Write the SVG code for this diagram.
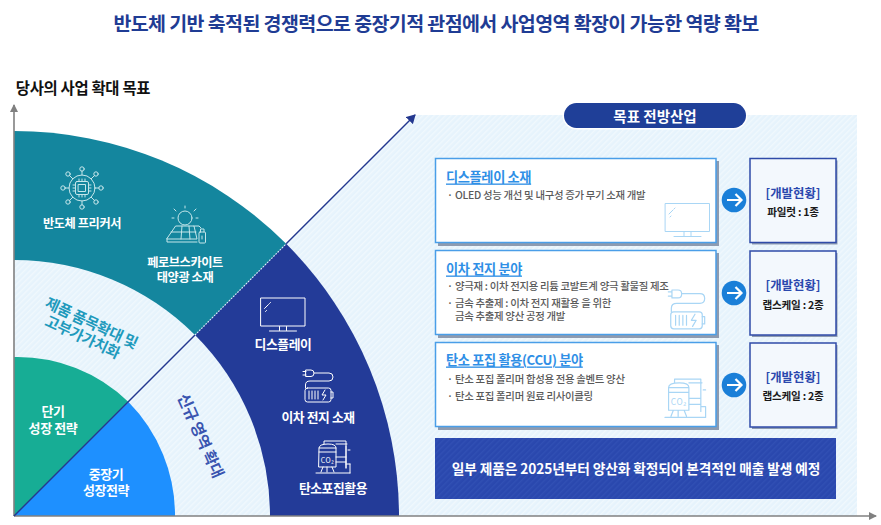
<svg xmlns="http://www.w3.org/2000/svg" width="881" height="525" viewBox="0 0 881 525">
<style>
text{font-family:"Noto Sans CJK KR","Noto Sans",sans-serif;font-weight:700;text-anchor:middle;dominant-baseline:central}
.w{fill:#fff;font-size:12.2px;letter-spacing:-.4px}
.ct{fill:#2f8fe6;font-size:13.2px;text-anchor:start;text-decoration:underline;letter-spacing:-.35px}
.b{fill:#5a5a5a;font-size:10.4px;font-weight:500;text-anchor:start;letter-spacing:-.3px}
.s1{fill:#2a48ae;font-size:12.4px}
.s2{fill:#1a1a1a;font-size:10.6px;letter-spacing:-.25px}
.card{fill:#fff;stroke:#4a9ee8;stroke-width:1.5}
.shadow{fill:#8e9bb0}
.stat{fill:#f3f8fd;stroke:#2f4ba8;stroke-width:1.5}
.ic{fill:none;stroke:#fff;stroke-width:1;stroke-linecap:round;stroke-linejoin:round}
.icl{fill:none;stroke:#a9d6f5;stroke-width:1;stroke-linecap:round;stroke-linejoin:round}
.ict{fill:none;stroke:#c5e6ea;stroke-width:1;stroke-linecap:round;stroke-linejoin:round}
</style>
<defs>
<pattern id="h" width="4" height="4" patternUnits="userSpaceOnUse" patternTransform="rotate(-45)">
<rect width="4" height="4" fill="#e6f3fc"/><rect width="4" height="1.4" fill="#f0f8fd"/>
</pattern>
<pattern id="h2" width="4" height="4" patternUnits="userSpaceOnUse" patternTransform="rotate(-45)">
<rect width="4" height="4" fill="#2a48ae"/><rect width="4" height="1.4" fill="#3150b4"/>
</pattern>
<marker id="ag" markerWidth="9" markerHeight="8" refX="7" refY="4" orient="auto" markerUnits="userSpaceOnUse"><path d="M0 0L8 4L0 8Z" fill="#808080"/></marker>
<marker id="an" markerWidth="10" markerHeight="10" refX="8" refY="5" orient="auto" markerUnits="userSpaceOnUse"><path d="M0 0L9 5L0 10Z" fill="#24388f"/></marker>
<symbol id="mon" viewBox="0 0 46 36" overflow="visible">
<rect x=".5" y=".5" width="44" height="28"/><path d="M19 29V33M26 29V33M9 33.5H36M4 11L8 7M9 6L10 5M6 13L5 14"/>
</symbol>
<symbol id="bat" viewBox="0 0 32 33" overflow="visible">
<path d="M1 1.5H4M1 5H4M4 0H9Q12 0 12 3.2Q12 6.5 9 6.5H4ZM12 3H27Q31 3 31 7Q31 11 27 11H8Q3.5 11 3.5 15V18"/>
<rect x="3" y="18" width="26" height="14" rx="2.5"/><path d="M29 22H31V28H29M7 21V29M10 21V29M13 21V29M16 21V29M23 20L20 25H24L21 30"/>
</symbol>
<symbol id="tank" viewBox="0 0 36 36" overflow="visible">
<path d="M3 8Q3 4 12 4Q20 4 20 8V27H3ZM3 12H20M3 8H20M8 4V1H30V28M20 4H31M30 6V28M20 17H30M20 22H30M32 10H34M7 27L5 32M16 27L18 32M0 33H34M11 27V32M34 24V33M30 24H34"/>
<text x="11.5" y="19.5" style="font-size:7px;font-weight:400;fill:currentColor;stroke:none;letter-spacing:.5px">CO₂</text>
</symbol>
</defs>

<rect width="881" height="525" fill="#fff"/>
<text x="436" y="22" style="fill:#1f3c94;font-size:19.5px;letter-spacing:-.6px">반도체 기반 축적된 경쟁력으로 중장기적 관점에서 사업영역 확장이 가능한 역량 확보</text>
<text x="83" y="87" style="fill:#111;font-size:15.4px;letter-spacing:-.3px">당사의 사업 확대 목표</text>

<path id="bg" d="M14 516L415 115H857V516Z" fill="url(#h)"/>

<g id="sector-left-outer"><path d="M14 516V131A385 385 0 0 1 286.2 243.8Z" fill="#14869e"/></g>
<g id="sector-left-mid"><path d="M14 516V260A256 256 0 0 1 195 335Z" fill="url(#h)"/></g>
<g id="sector-left-inner"><path d="M14 516V357A159 159 0 0 1 128.5 402Z" fill="#17ad95"/></g>
<g id="sector-right-outer"><path d="M14 516L286.2 243.8A385 385 0 0 1 399 516Z" fill="#233b98"/></g>
<g id="sector-right-mid"><path d="M14 516L195 335A256 256 0 0 1 270 516Z" fill="url(#h)"/></g>
<g id="sector-right-inner"><path d="M14 516L128.5 402A161 161 0 0 1 175 516Z" fill="#1e90ff"/></g>

<g id="connectors">
<path d="M14 516V105" stroke="#808080" stroke-width="1.6" fill="none" marker-end="url(#ag)"/>
<path d="M14 516H876" stroke="#808080" stroke-width="1.6" fill="none" marker-end="url(#ag)"/>
<path d="M14 516L195 335" stroke="#24388f" stroke-width="1.4" fill="none"/>
<path d="M195 335L286.2 243.8" stroke="#d8eef8" stroke-width="1.2" stroke-dasharray="1.5 1.5" fill="none"/>
<path d="M286.2 243.8L415 115" stroke="#24388f" stroke-width="1.4" fill="none" marker-end="url(#an)"/>
</g>

<g id="node-semiconductor">
<g class="ict" transform="translate(82 188)">
<circle r="13"/><rect x="-6.5" y="-6.5" width="13" height="13" rx="1.5"/><rect x="-3.5" y="-3.5" width="7" height="7"/>
<path d="M-3 -9V-6.5M0 -9V-6.5M3 -9V-6.5M-3 6.5V9M0 6.5V9M3 6.5V9M-9 -3H-6.5M-9 0H-6.5M-9 3H-6.5M6.5 -3H9M6.5 0H9M6.5 3H9"/>
<path d="M0 -13V-17M0 13V17M-13 0H-17M13 0H17M-9.2 -9.2L-12.5 -12.5M9.2 -9.2L12.5 -12.5M-9.2 9.2L-12.5 12.5M9.2 9.2L12.5 12.5"/>
<circle cy="-19" r="2.2"/><circle cy="19" r="2.2"/><circle cx="-19" r="2.2"/><circle cx="19" r="2.2"/>
<circle cx="-14" cy="-14" r="2.2"/><circle cx="14" cy="-14" r="2.2"/><circle cx="-14" cy="14" r="2.2"/><circle cx="14" cy="14" r="2.2"/>
</g>
<text class="w" x="82" y="223">반도체 프리커서</text>
</g>
<g id="node-perovskite">
<g class="ict" transform="translate(185 225)">
<circle cy="-7" r="7"/><path d="M0 -19V-17M-11 -16L-9 -14M11 -16L9 -14M-13 -7H-11M11 -7H13"/>
<path d="M-9 1H9L12 14H-18ZM-3 1L-4 14M4 1L5 14M-14 7H11M-18 14V17H12M9 1H14L16 3"/>
<rect x="14" y="7" width="6.5" height="11" rx="1"/><path d="M15.5 7V4H19V7M17 11V14"/>
</g>
<text class="w" x="185" y="262">페로브스카이트</text>
<text class="w" x="185" y="277">태양광 소재</text>
</g>
<g id="node-band-left">
<text transform="translate(92 322) rotate(25)" style="fill:#1f9abc;font-size:15px;letter-spacing:-.4px">제품 품목확대 및</text>
<text transform="translate(83 336) rotate(25)" style="fill:#1f9abc;font-size:15px;letter-spacing:-.4px">고부가가치화</text>
</g>
<g id="node-short">
<text class="w" x="53" y="410" style="font-size:13px">단기</text>
<text class="w" x="53" y="427" style="font-size:13px">성장 전략</text>
</g>
<g id="node-mid">
<text class="w" x="106" y="473" style="font-size:13px">중장기</text>
<text class="w" x="106" y="489" style="font-size:13px">성장전략</text>
</g>
<g id="node-band-right">
<text transform="translate(202 435) rotate(66)" style="fill:#3a55b0;font-size:15.5px;letter-spacing:-.3px">신규 영역 확대</text>
</g>
<g id="node-display">
<use href="#mon" class="ic" x="260.5" y="297.5" width="46" height="36"/>
<text class="w" x="283" y="343" style="font-size:12.8px">디스플레이</text>
</g>
<g id="node-battery">
<use href="#bat" class="ic" x="302" y="370" width="32" height="33"/>
<text class="w" x="318" y="416" style="font-size:12.8px">이차 전지  소재</text>
</g>
<g id="node-ccu">
<use href="#tank" class="ic" x="316" y="440" width="36" height="36" style="color:#fff"/>
<text class="w" x="333" y="487" style="font-size:12.8px">탄소포집활용</text>
</g>

<g id="node-pill">
<rect x="562.5" y="101.5" width="185" height="28" rx="14" fill="#fff"/>
<rect x="564" y="103" width="182" height="25" rx="12.5" fill="#1f3f98"/>
<text x="655" y="115" style="fill:#fff;font-size:14.5px">목표 전방산업</text>
</g>

<g id="node-card1">
<rect class="shadow" x="438" y="161" width="281" height="85"/>
<rect class="card" x="435.5" y="158.5" width="280.5" height="84"/>
<text class="ct" x="446" y="176">디스플레이 소재</text>
<text class="b" x="447" y="194">·</text>
<text class="b" x="455" y="194">OLED 성능 개선 및 내구성 증가 무기 소재 개발</text>
<use href="#mon" class="icl" x="665" y="203" width="46" height="36"/>
</g>
<g id="node-card2">
<rect class="shadow" x="438" y="253" width="281" height="85"/>
<rect class="card" x="435.5" y="250.5" width="280.5" height="84"/>
<text class="ct" x="446" y="268">이차 전지 분야</text>
<text class="b" x="447" y="285">·</text>
<text class="b" x="455" y="285">양극재 : 이차 전지용 리튬 코발트계 양극 활물질 제조</text>
<text class="b" x="447" y="302">·</text>
<text class="b" x="455" y="302">금속 추출제 : 이차 전지 재활용 을 위한</text>
<text class="b" x="455" y="315">금속 추출제 양산 공정 개발</text>
<use href="#bat" class="icl" x="667" y="290" width="39" height="40"/>
</g>
<g id="node-card3">
<rect class="shadow" x="438" y="345" width="281" height="85"/>
<rect class="card" x="435.5" y="342.5" width="280.5" height="84"/>
<text class="ct" x="446" y="359">탄소 포집 활용(CCU) 분야</text>
<text class="b" x="447" y="378">·</text>
<text class="b" x="455" y="378">탄소 포집 폴리머 합성용 전용 솔벤트 양산</text>
<text class="b" x="447" y="395">·</text>
<text class="b" x="455" y="395">탄소 포집 폴리머 원료 리사이클링</text>
<use href="#tank" class="icl" x="665" y="377" width="43" height="45" style="color:#a9d6f5"/>
</g>

<g id="node-arrow1"><circle cx="734" cy="200" r="12.3" fill="#1a7fd8"/><path d="M727 200H741M735.5 194L741.5 200L735.5 206" fill="none" stroke="#fff" stroke-width="2.2"/></g>
<g id="node-arrow2"><circle cx="734" cy="293" r="12.3" fill="#1a7fd8"/><path d="M727 293H741M735.5 287L741.5 293L735.5 299" fill="none" stroke="#fff" stroke-width="2.2"/></g>
<g id="node-arrow3"><circle cx="734" cy="385" r="12.3" fill="#1a7fd8"/><path d="M727 385H741M735.5 379L741.5 385L735.5 391" fill="none" stroke="#fff" stroke-width="2.2"/></g>

<g id="node-status1">
<rect class="shadow" x="752" y="160.5" width="85.5" height="84"/>
<rect class="stat" x="750" y="158.5" width="86" height="84"/>
<text class="s1" x="793" y="193">[개발현황]</text>
<text class="s2" x="793" y="211">파일럿 : 1종</text>
</g>
<g id="node-status2">
<rect class="shadow" x="752" y="253" width="85.5" height="84"/>
<rect class="stat" x="750" y="251" width="86" height="84"/>
<text class="s1" x="793" y="285">[개발현황]</text>
<text class="s2" x="793" y="304">랩스케일 : 2종</text>
</g>
<g id="node-status3">
<rect class="shadow" x="752" y="345" width="85.5" height="84"/>
<rect class="stat" x="750" y="343" width="86" height="84"/>
<text class="s1" x="793" y="377">[개발현황]</text>
<text class="s2" x="793" y="395">랩스케일 : 2종</text>
</g>

<g id="node-banner">
<rect x="435" y="438" width="401" height="61" fill="url(#h2)"/>
<text x="636" y="468" style="fill:#fff;font-size:13.7px;letter-spacing:-.1px">일부 제품은 2025년부터 양산화 확정되어 본격적인 매출 발생 예정</text>
</g>
</svg>
